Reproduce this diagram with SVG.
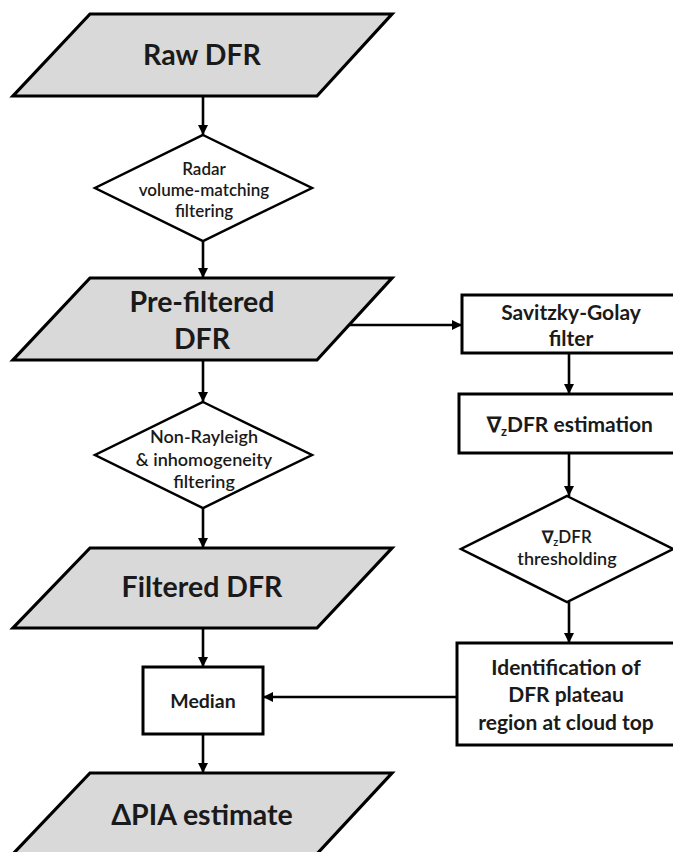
<svg xmlns="http://www.w3.org/2000/svg" width="673" height="852" viewBox="0 0 673 852">
<defs>
<marker id="ah" viewBox="0 0 10 10" refX="10" refY="5" markerWidth="4" markerHeight="4.4" orient="auto" markerUnits="strokeWidth">
<path d="M0,0 L10,5 L0,10 z" fill="#000"/>
</marker>
<style>
.io{fill:#d9d9d9;stroke:#000;stroke-width:3.2;stroke-linejoin:miter}
.proc{fill:#fff;stroke:#000;stroke-width:3}
.dec{fill:#fff;stroke:#000;stroke-width:2.5}
.conn line,.conn polyline{stroke:#000;stroke-width:2.6;fill:none;marker-end:url(#ah)}
text{font-family:Lato,"Open Sans","Liberation Sans",sans-serif;fill:#1a1a1a;text-anchor:middle}
.big{font-size:28.5px;font-weight:700}
.mid{font-size:21px;font-weight:700}
.sm{font-size:18px;font-weight:600}
.xs{font-size:17px;font-weight:600}
</style>
</defs>
<rect width="673" height="852" fill="#fff"/>
<g class="conn" id="connectors">
<line x1="203" y1="96" x2="203" y2="135"/>
<line x1="203" y1="241" x2="203" y2="278"/>
<line x1="203" y1="360" x2="203" y2="402"/>
<line x1="203" y1="508" x2="203" y2="548"/>
<line x1="203" y1="628" x2="203" y2="667"/>
<line x1="203" y1="734" x2="203" y2="773"/>
<line x1="350" y1="325" x2="462" y2="325"/>
<line x1="569" y1="353" x2="569" y2="394"/>
<line x1="569" y1="453" x2="569" y2="496"/>
<line x1="569" y1="602" x2="569" y2="643"/>
<line x1="457" y1="697" x2="263" y2="697"/>
</g>
<g id="raw">
<polygon class="io" points="90,14 392,14 317,96 13,96"/>
<text class="big" x="202" y="65">Raw DFR</text>
</g>
<g id="radar">
<polygon class="dec" points="203,135 312,188 203,241 95,188"/>
<text class="xs" x="204" y="175">Radar</text>
<text class="xs" x="204" y="196">volume-matching</text>
<text class="xs" x="204" y="217">filtering</text>
</g>
<g id="prefiltered">
<polygon class="io" points="90,278 392,278 317,360 13,360"/>
<text class="big" x="202" y="312">Pre-filtered</text>
<text class="big" x="202" y="349">DFR</text>
</g>
<g id="nonrayleigh">
<polygon class="dec" points="203,402 312,455 203,508 95,455"/>
<text class="sm" x="204" y="443">Non-Rayleigh</text>
<text class="sm" x="204" y="466">&amp; inhomogeneity</text>
<text class="sm" x="204" y="488">filtering</text>
</g>
<g id="filtered">
<polygon class="io" points="90,548 392,548 317,628 13,628"/>
<text class="big" x="202" y="597">Filtered DFR</text>
</g>
<g id="median">
<rect class="proc" x="143" y="667" width="120" height="67"/>
<text class="mid" x="203" y="708" style="font-size:19.5px">Median</text>
</g>
<g id="dpia">
<polygon class="io" points="90,773 392,773 315,856 11,856"/>
<text class="big" x="202" y="825">ΔPIA estimate</text>
</g>
<g id="savgol">
<rect class="proc" x="462" y="295" width="220" height="58"/>
<text class="mid" x="571" y="320">Savitzky-Golay</text>
<text class="mid" x="571" y="346">filter</text>
</g>
<g id="grad">
<rect class="proc" x="459" y="394" width="223" height="59"/>
<text class="mid" x="570" y="432">∇<tspan font-size="13" dy="4">z</tspan><tspan dy="-4">DFR estimation</tspan></text>
</g>
<g id="thresh">
<polygon class="dec" points="567,496 673,549 567,602 461,549"/>
<text class="sm" x="567" y="543" style="font-size:17px">∇<tspan font-size="11" dy="3">z</tspan><tspan dy="-3">DFR</tspan></text>
<text class="sm" x="567" y="565">thresholding</text>
</g>
<g id="plateau">
<rect class="proc" x="457" y="643" width="225" height="102"/>
<text class="mid" x="566" y="675">Identification of</text>
<text class="mid" x="566" y="702">DFR plateau</text>
<text class="mid" x="566" y="730">region at cloud top</text>
</g>
</svg>
